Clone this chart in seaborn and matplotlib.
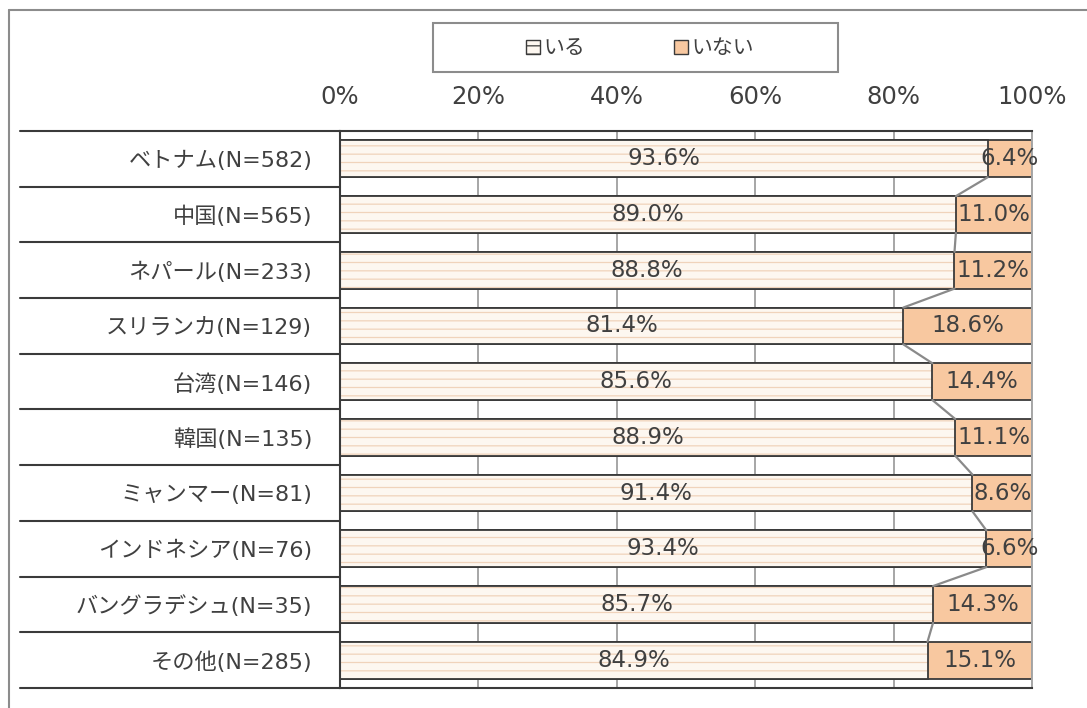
import numpy as np
import pandas as pd
import matplotlib
matplotlib.use("Agg")
import matplotlib.pyplot as plt
import matplotlib.transforms as mtransforms
from matplotlib.lines import Line2D
from matplotlib.patches import Patch, Rectangle
import seaborn as sns

# ---- data ----
categories = ["ベトナム(N=582)", "中国(N=565)", "ネパール(N=233)", "スリランカ(N=129)",
              "台湾(N=146)", "韓国(N=135)", "ミャンマー(N=81)", "インドネシア(N=76)",
              "バングラデシュ(N=35)", "その他(N=285)"]
iru = [93.6, 89.0, 88.8, 81.4, 85.6, 88.9, 91.4, 93.4, 85.7, 84.9]
inai = [6.4, 11.0, 11.2, 18.6, 14.4, 11.1, 8.6, 6.6, 14.3, 15.1]
series_names = ["いる", "いない"]
x_ticks = [0, 20, 40, 60, 80, 100]
x_tick_labels = ["0%", "20%", "40%", "60%", "80%", "100%"]

# ---- style ----
sns.set_theme(style="white")
plt.rcParams["font.family"] = ["DejaVu Sans", "Noto Sans CJK JP"]
plt.rcParams["hatch.linewidth"] = 0.9

TEXT = "#404040"
EDGE = "#3a3a3a"
GRID = "#a6a6a6"
IRU_FILL = "#fdf7f0"
IRU_HATCH = "#f0d3bb"
INAI_FILL = "#f8c8a0"

df = pd.DataFrame({"category": categories, "iru": iru, "inai": inai})
df["total"] = df["iru"] + df["inai"]

W, H = 1087, 708
fig = plt.figure(figsize=(W / 100, H / 100), dpi=100)
ax = fig.add_axes([340 / W, 1 - 688 / H, 692 / W, 557 / H])

bar_w = 0.66
# stacked: full bar in the "いない" colour, "いる" drawn on top
sns.barplot(data=df, y="category", x="total", order=categories, color=INAI_FILL,
            saturation=1, edgecolor=EDGE, linewidth=1.3, width=bar_w, ax=ax)
sns.barplot(data=df, y="category", x="iru", order=categories, color=IRU_FILL,
            saturation=1, edgecolor=IRU_HATCH, linewidth=0, width=bar_w, ax=ax)
for bar in ax.containers[1]:
    bar.set_hatch("--")
sns.barplot(data=df, y="category", x="iru", order=categories, color=EDGE,
            fill=False, linewidth=1.3, width=bar_w, ax=ax)

# series lines joining the segment boundaries
for i in range(len(categories) - 1):
    ax.plot([iru[i], iru[i + 1]], [i + bar_w / 2, i + 1 - bar_w / 2],
            color="#8a8a8a", lw=1.6, zorder=3)

# value labels
for i in range(len(categories)):
    ax.text(iru[i] / 2, i, f"{iru[i]:.1f}%", ha="center", va="center",
            fontsize=16.5, color=TEXT, zorder=5)
    ax.text(iru[i] + inai[i] / 2, i, f"{inai[i]:.1f}%", ha="center", va="center",
            fontsize=16.5, color=TEXT, zorder=5)

# axes
ax.set_xlim(0, 100)
ax.set_ylim(len(categories) - 0.5, -0.5)
ax.set_xticks(x_ticks)
ax.set_xticklabels(x_tick_labels)
ax.xaxis.tick_top()
ax.tick_params(axis="x", length=0, pad=16, labelsize=17.5, labelcolor=TEXT)
ax.tick_params(axis="y", length=0, pad=20, labelsize=16, labelcolor=TEXT)
ax.set_xlabel("")
ax.set_ylabel("")
ax.xaxis.grid(True, color=GRID, lw=1.4)
ax.yaxis.grid(False)
ax.set_axisbelow(True)
for side in ["left", "top", "bottom"]:
    ax.spines[side].set_color(EDGE)
    ax.spines[side].set_linewidth(1.5)
ax.spines["right"].set_color(GRID)
ax.spines["right"].set_linewidth(1.4)

# row separators in the label column
trans = mtransforms.blended_transform_factory(ax.transAxes, ax.transData)
x0 = (20 - 340) / 692
for b in np.arange(-0.5, len(categories)):
    ax.plot([x0, 0], [b, b], transform=trans, clip_on=False, color=EDGE, lw=1.5)

# legend
fig.add_artist(Rectangle((433 / W, 1 - 72 / H), 405 / W, 49 / H, transform=fig.transFigure,
                         fill=False, edgecolor="#8c8c8c", lw=1.5))
handles = [Patch(facecolor=IRU_FILL, edgecolor=EDGE, hatch="--", lw=1),
           Patch(facecolor=INAI_FILL, edgecolor=EDGE, lw=1)]
fig.legend(handles, series_names, loc="center", bbox_to_anchor=(640 / W, 1 - 48 / H),
           ncol=2, frameon=False, fontsize=15, handlelength=0.65, handleheight=0.65,
           handletextpad=0.15, columnspacing=4.3, labelcolor=TEXT)

# outer chart frame
fig.add_artist(Line2D([9 / W, 9 / W], [0, 1 - 10 / H], color="#8c8c8c", lw=1.5))
fig.add_artist(Line2D([9 / W, 1], [1 - 10 / H, 1 - 10 / H], color="#8c8c8c", lw=1.5))

fig.savefig("out.png", dpi=100, facecolor="white")
